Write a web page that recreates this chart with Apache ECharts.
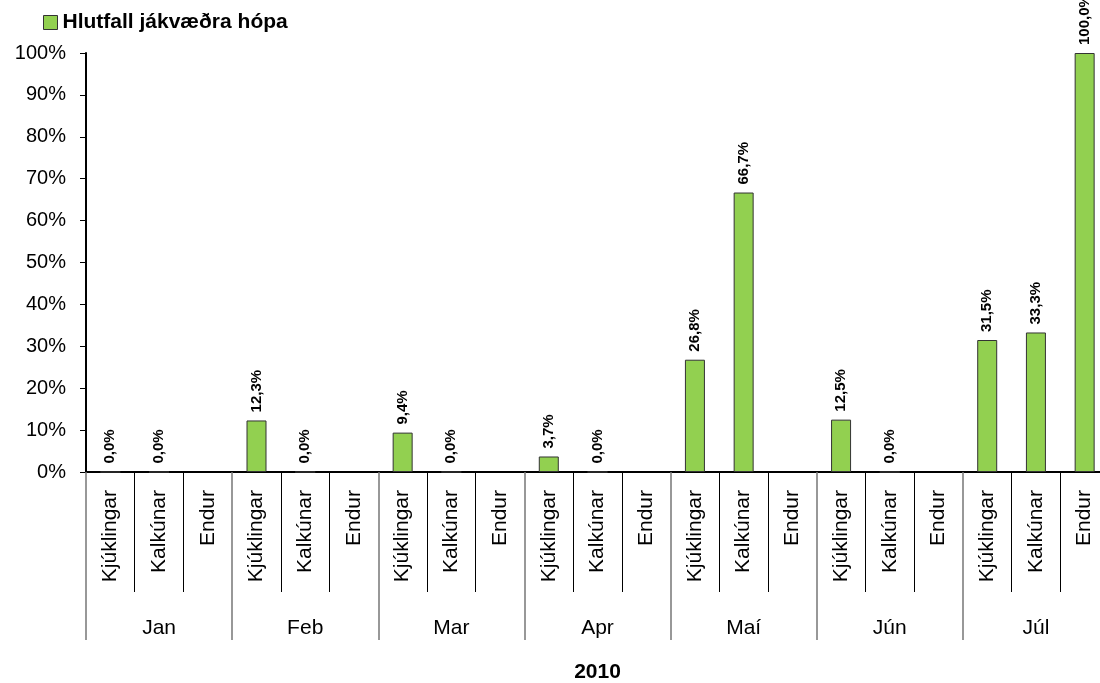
<!DOCTYPE html>
<html>
<head>
<meta charset="utf-8">
<script src="https://cdn.jsdelivr.net/npm/echarts@6/dist/echarts.min.js"></script>
<style>
html, body { margin: 0; padding: 0; background: #fff; overflow: hidden; }
#main { width: 1110px; height: 683px; }
</style>
</head>
<body>
<div id="main"></div>
<script>
var months = ['Jan', 'Feb', 'Mar', 'Apr', 'Maí', 'Jún', 'Júl'];
var kinds = ['Kjúklingar', 'Kalkúnar', 'Endur'];

// hlutfall jákvæðra hópa (%), null = engin sýni
var kjuklingar = [0, 12.3, 9.4, 3.7, 26.8, 12.5, 31.5];
var kalkunar = [0, 0, 0, 0, 66.7, 0, 33.3];
var endur = [null, null, null, null, null, null, 100];

var cats = [], values = [];
for (var m = 0; m < months.length; m++) {
	cats.push(kinds[0], kinds[1], kinds[2]);
	values.push(kjuklingar[m], kalkunar[m], endur[m]);
}

var font = 'Liberation Sans, Arial, sans-serif';

var myChart = echarts.init(document.getElementById('main'));

var option = {
	backgroundColor: '#fff',
	animation: false,
	textStyle: { fontFamily: font },
	legend: {
		left: 43,
		top: 12,
		padding: 0,
		icon: 'rect',
		itemWidth: 14,
		itemHeight: 14,
		itemStyle: { borderColor: '#333', borderWidth: 1 },
		textStyle: { fontSize: 21, fontWeight: 'bold', color: '#000', fontFamily: font },
		data: ['Hlutfall jákvæðra hópa']
	},
	grid: { left: 86, right: 1, top: 53, bottom: 211, containLabel: false, outerBoundsMode: 'none' },
	xAxis: [
		{
			type: 'category',
			data: cats,
			position: 'bottom',
			axisLine: { show: true, lineStyle: { color: '#000', width: 2 } },
			axisTick: {
				show: true,
				length: 120,
				interval: function (i) { return i % 3 !== 0; },
				lineStyle: { color: '#000', width: 1 }
			},
			axisLabel: {
				rotate: 90,
				interval: 0,
				margin: 18,
				fontSize: 21,
				color: '#000',
				fontFamily: font
			}
		},
		{
			type: 'category',
			data: months,
			position: 'bottom',
			axisLine: { show: false },
			axisTick: {
				show: true,
				length: 168,
				interval: 0,
				lineStyle: { color: '#777', width: 1.5 }
			},
			axisLabel: {
				interval: 0,
				margin: 146,
				fontSize: 21,
				color: '#000',
				fontFamily: font
			},
			name: '2010',
			nameLocation: 'middle',
			nameGap: 190,
			nameTextStyle: { fontSize: 21, fontWeight: 'bold', color: '#000', fontFamily: font }
		}
	],
	yAxis: {
		type: 'value',
		min: 0,
		max: 100,
		interval: 10,
		axisLine: { show: true, lineStyle: { color: '#000', width: 2 } },
		axisTick: { show: true, length: 6, lineStyle: { color: '#000' } },
		splitLine: { show: false },
		axisLabel: {
			formatter: '{value}%',
			margin: 20,
			fontSize: 20,
			color: '#000',
			fontFamily: font
		}
	},
	series: [
		{
			name: 'Hlutfall jákvæðra hópa',
			type: 'bar',
			xAxisIndex: 0,
			data: values,
			barWidth: 20,
			itemStyle: { color: '#92D050', borderColor: '#333', borderWidth: 1 },
			label: {
				show: true,
				position: 'top',
				distance: 8,
				rotate: 90,
				align: 'left',
				verticalAlign: 'middle',
				fontSize: 15,
				fontWeight: 'bold',
				color: '#000',
				fontFamily: font,
				formatter: function (p) {
					return p.value.toFixed(1).replace('.', ',') + '%';
				}
			}
		}
	]
};

myChart.setOption(option, true);
</script>
</body>
</html>
